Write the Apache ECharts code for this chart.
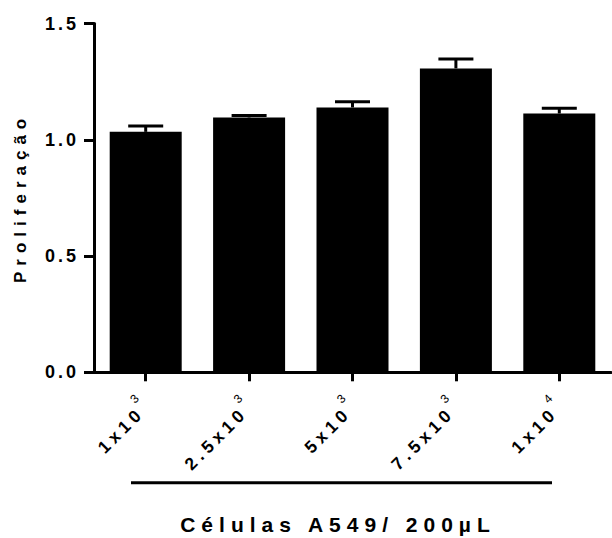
<!DOCTYPE html>
<html><head><meta charset="utf-8">
<script src="https://cdn.jsdelivr.net/npm/echarts@6/dist/echarts.min.js"></script>
<style>
html,body{margin:0;padding:0;background:#fff}
#c{width:612px;height:538px}
#c text{letter-spacing:6px}
#c text[style*="18px"]{letter-spacing:3px}
#c text[style*="17px"]{letter-spacing:6px}
#c text[style*="17.5px"]{letter-spacing:4.5px}
#c text[style*="21px"]{letter-spacing:6px}
#c text[style*="12px"]{letter-spacing:0}
</style></head><body><div id="c"></div>
<script>
// Data
const categories = ['1x10³', '2.5x10³', '5x10³', '7.5x10³', '1x10⁴'];
const means = [1.034, 1.096, 1.139, 1.307, 1.113];
const errors = [0.025, 0.008, 0.024, 0.040, 0.023];
const yTicks = [0, 0.5, 1.0, 1.5];
const yAxisTitle = 'Proliferação';
const xAxisTitle = 'Células A549/ 200µL';

const FONT = 'Liberation Sans';
const supMap = {'⁰':'0','¹':'1','²':'2','³':'3','⁴':'4','⁵':'5','⁶':'6','⁷':'7','⁸':'8','⁹':'9'};

const chart = echarts.init(document.getElementById('c'), null, {renderer: 'svg'});
chart.setOption({
  animation: false,
  backgroundColor: '#fff',
  grid: {left: 94, right: 1, top: 23.5, bottom: 165.7, containLabel: false, outerBoundsMode: 'none'},
  xAxis: {
    type: 'category',
    data: categories,
    boundaryGap: true,
    axisLine: {show: true, lineStyle: {color: '#000', width: 3}},
    axisTick: {show: true, alignWithLabel: true, length: 9, lineStyle: {color: '#000', width: 3}},
    axisLabel: {
      interval: 0, rotate: 45, margin: 33, color: '#000',
      formatter: function (v) {
        const m = v.match(/^(.*?)([⁰¹²³⁴⁵⁶⁷⁸⁹]+)$/);
        if (!m) return '{b|' + v + '}';
        const d = m[2].split('').map(c => supMap[c]).join('');
        return '{b|' + m[1] + '}{s|' + d + '}';
      },
      rich: {
        b: {fontSize: 17.5, fontWeight: 'bold', fontFamily: FONT, color: '#000'},
        s: {fontSize: 12, fontWeight: 'normal', fontFamily: FONT, color: '#000', padding: [0, 0, 25, 0]}
      }
    },
    splitLine: {show: false}
  },
  yAxis: {
    type: 'value',
    min: yTicks[0], max: yTicks[yTicks.length - 1], interval: 0.5,
    name: yAxisTitle,
    nameLocation: 'middle', nameRotate: 90, nameGap: 65, nameMoveOverlap: false,
    nameTextStyle: {fontSize: 17, fontWeight: 'bold', fontFamily: FONT, color: '#000'},
    axisLine: {show: true, lineStyle: {color: '#000', width: 3}},
    axisTick: {show: true, length: 10, lineStyle: {color: '#000', width: 3}},
    axisLabel: {
      margin: 15, fontSize: 18, fontWeight: 'bold', fontFamily: FONT, color: '#000',
      padding: [6, 0, 0, 0],
      formatter: v => v.toFixed(1)
    },
    splitLine: {show: false}
  },
  series: [
    {
      type: 'bar',
      data: means,
      barWidth: 72,
      itemStyle: {color: '#000'},
      z: 2
    },
    {
      type: 'custom',
      data: means.map((m, i) => [i, m, m + errors[i]]),
      encode: {x: 0, y: [1, 2]},
      z: 3,
      renderItem: function (params, api) {
        const x = api.value(0);
        const lo = api.coord([x, api.value(1)]);
        const hi = api.coord([x, api.value(2)]);
        const hw = 17.5;
        return {
          type: 'group',
          children: [
            {type: 'line', shape: {x1: lo[0], y1: lo[1], x2: hi[0], y2: hi[1]}, style: {stroke: '#000', lineWidth: 3}},
            {type: 'line', shape: {x1: hi[0] - hw, y1: hi[1], x2: hi[0] + hw, y2: hi[1]}, style: {stroke: '#000', lineWidth: 3}}
          ]
        };
      }
    }
  ],
  graphic: [
    {type: 'line', shape: {x1: 131, y1: 482.7, x2: 552, y2: 482.7}, style: {stroke: '#000', lineWidth: 3}},
    {type: 'text', x: 338, y: 524,
     style: {text: xAxisTitle, fontSize: 21, fontWeight: 'bold', fontFamily: FONT, fill: '#000',
             textAlign: 'center', textVerticalAlign: 'middle'}}
  ]
});
</script></body></html>
